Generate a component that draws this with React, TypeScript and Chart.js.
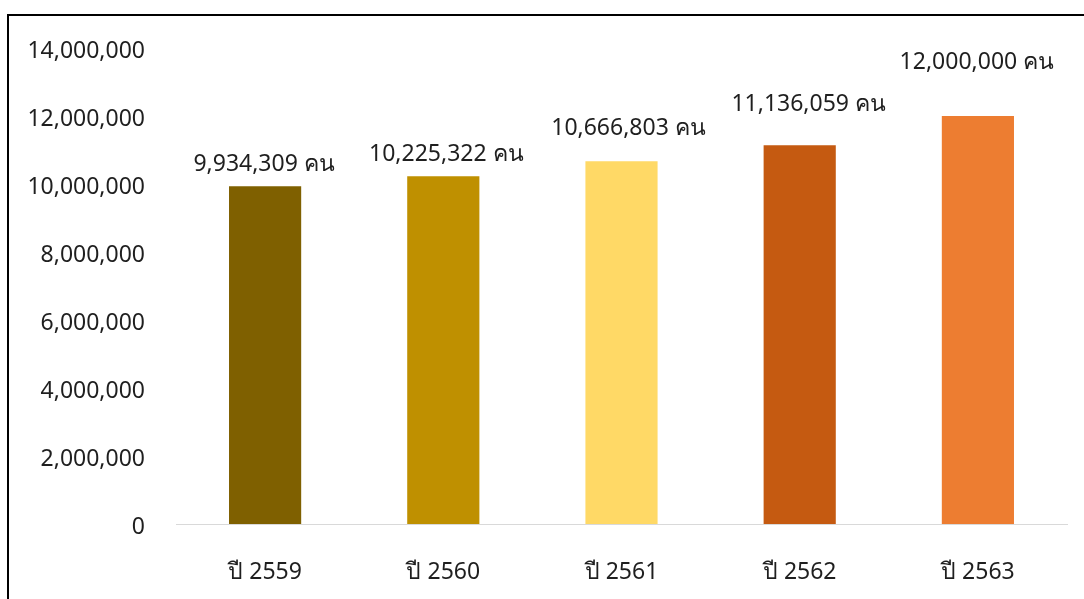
import React, { useEffect, useRef } from "react";
import { Chart, registerables } from "chart.js";

Chart.register(...registerables);

const categories = ["ปี 2559", "ปี 2560", "ปี 2561", "ปี 2562", "ปี 2563"];
const visitors = [9934309, 10225322, 10666803, 11136059, 12000000];
const barColors = ["#7F6000", "#BF9000", "#FFD966", "#C55A11", "#ED7D31"];
const labelSuffix = " คน";
const labelDx = [-1, 3, 7, 9, -1];
const labelDy = [22, 22, 33, 41, 54];

const FONT = "'Noto Sans', 'Leelawadee UI', sans-serif";
const TEXT = "#1f1f1f";

const valueLabels = {
  id: "valueLabels",
  afterDatasetsDraw(chart: any) {
    const ctx = chart.ctx;
    const meta = chart.getDatasetMeta(0);
    ctx.save();
    ctx.font = `23px ${FONT}`;
    ctx.fillStyle = TEXT;
    ctx.textAlign = "center";
    ctx.textBaseline = "middle";
    meta.data.forEach((bar: any, i: number) => {
      const text = visitors[i].toLocaleString("en-US") + labelSuffix;
      ctx.fillText(text, bar.x + labelDx[i], bar.y - labelDy[i]);
    });
    ctx.restore();
  },
};

export default function App() {
  const ref = useRef<HTMLCanvasElement | null>(null);
  useEffect(() => {
    if (!ref.current) return;
    const chart = new Chart(ref.current, {
      type: "bar",
      data: {
        labels: categories,
        datasets: [
          {
            data: visitors,
            backgroundColor: barColors,
            borderWidth: 0,
            categoryPercentage: 1,
            barPercentage: 0.405,
          },
        ],
      },
      options: {
        responsive: false,
        animation: false,
        devicePixelRatio: 1,
        layout: { padding: { top: 48, right: 17, bottom: 0, left: 0 } },
        plugins: { legend: { display: false }, tooltip: { enabled: false } },
        scales: {
          x: {
            grid: { display: false, drawTicks: false },
            border: { display: true, color: "#d9d9d9", width: 1 },
            ticks: { padding: 35, color: TEXT, font: { family: FONT, size: 23 } },
            afterFit: (s: any) => {
              s.height = 75;
            },
          },
          y: {
            min: 0,
            max: 14000000,
            grid: { display: false, drawTicks: false },
            border: { display: false },
            ticks: {
              stepSize: 2000000,
              padding: 31,
              labelOffset: 3,
              color: TEXT,
              font: { family: FONT, size: 23 },
              callback: (v: any) => Number(v).toLocaleString("en-US"),
            },
            afterFit: (s: any) => {
              s.width = 176;
            },
          },
        },
      },
      plugins: [valueLabels],
    });
    return () => chart.destroy();
  }, []);

  return (
    <div
      style={{
        position: "fixed",
        left: 0,
        top: 0,
        width: 1084,
        height: 599,
        overflow: "hidden",
        background: "#fff",
      }}
    >
      <div
        style={{
          position: "absolute",
          left: 7,
          top: 14,
          width: 2000,
          height: 2000,
          borderTop: "2px solid #000",
          borderLeft: "2px solid #000",
        }}
      />
      <canvas
        ref={ref}
        width={1084}
        height={599}
        style={{ position: "absolute", left: 0, top: 0, width: 1084, height: 599 }}
      />
    </div>
  );
}
